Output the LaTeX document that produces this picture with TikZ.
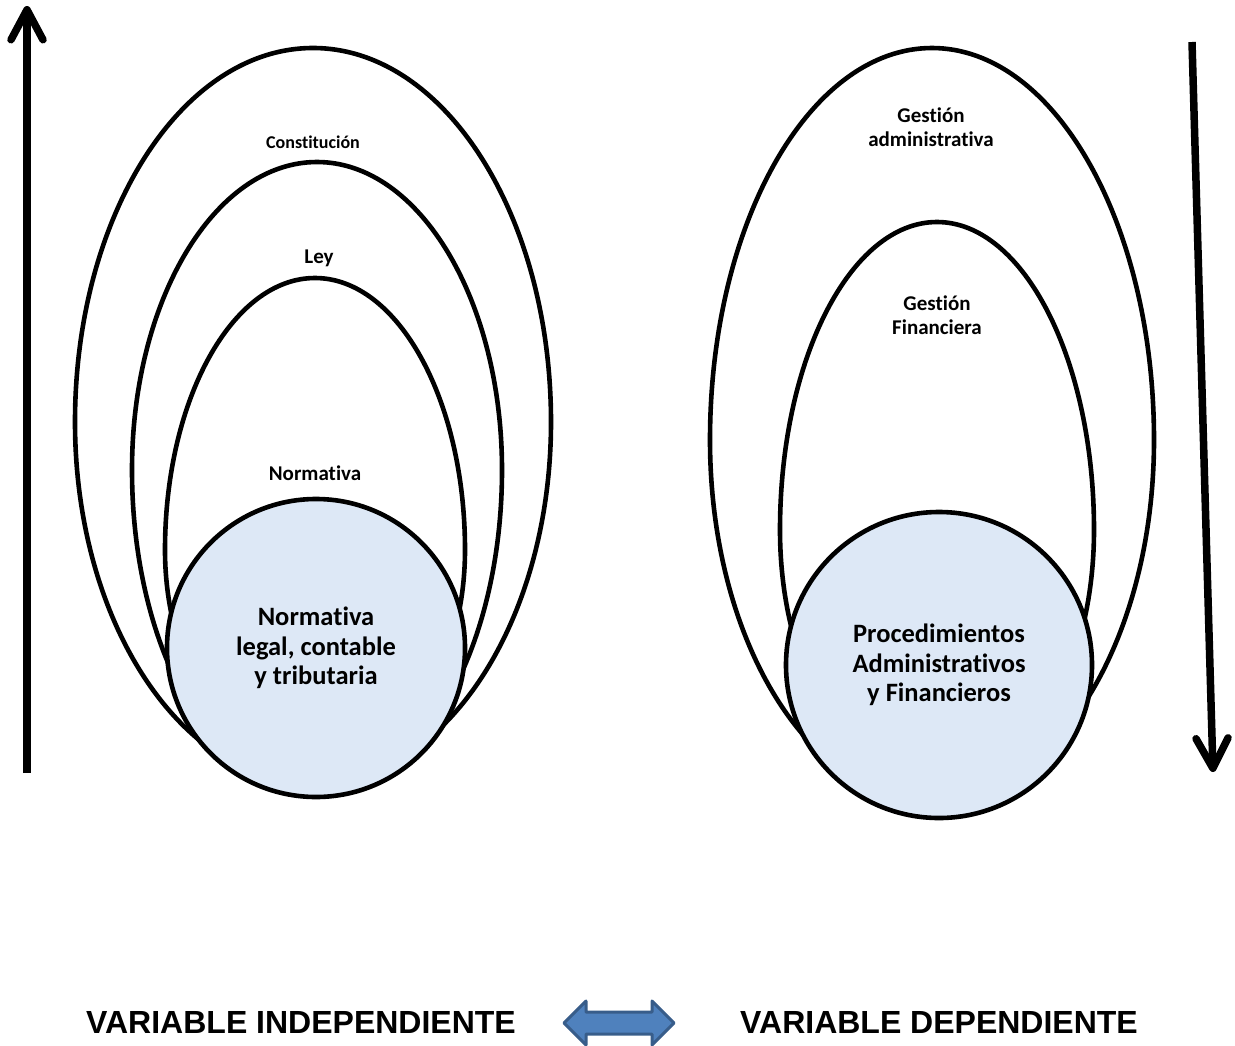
\documentclass[tikz,border=0pt]{standalone}
\usepackage{fontspec}
\setmainfont{Carlito}[Ligatures=NoCommon]
\newfontfamily\capsfont{Liberation Sans}
\usetikzlibrary{arrows.meta}

\definecolor{discfill}{RGB}{221,232,246}
\definecolor{linkblue}{RGB}{79,129,189}
\definecolor{linkedge}{RGB}{56,93,138}

% egg-shaped ring: #1 centre x, #2 y of widest row, #3 half width,
% #4 height above the widest row, #5 depth below it
\newcommand\eggring[5]{%
  \draw[ring] (#1-#3,#2) arc[start angle=180, end angle=360, x radius=#3, y radius=#4]
    arc[start angle=0, end angle=180, x radius=#3, y radius=#5] -- cycle;}

\begin{document}
\begin{tikzpicture}[x=1pt,y=-1pt,
  ring/.style={draw=black, line width=4.6pt},
  disc/.style={circle, draw=black, line width=4.6pt, fill=discfill, inner sep=0pt,
    align=center, font=\bfseries\fontsize{26.5}{29.5}\selectfont},
  tagsmall/.style={align=center, font=\bfseries\fontsize{18}{24}\selectfont},
  tagmid/.style={align=center, font=\bfseries\fontsize{21}{24}\selectfont},
  taglarge/.style={align=center, font=\bfseries\fontsize{21}{24}\selectfont},
  levelarrow/.style={line width=7.5pt, -{Straight Barb[round,length=30pt,width=32pt]}},
  caption/.style={anchor=base, font=\capsfont\bfseries\fontsize{32}{38}\selectfont}]
\useasboundingbox (0,0) rectangle (1235,1045);

% left group: nested legal levels
\eggring{313}{422}{238}{374}{362}
\eggring{317}{470}{185}{308}{325}
\eggring{315}{550}{150}{272}{220}
\node[disc, minimum size=298pt] (baseleft) at (316,648) {Normativa\\legal, contable\\y tributaria};

\node[tagsmall] (tconst) at (313,142) {Constitución};
\node[tagmid] (tley) at (319,258) {Ley};
\node[tagmid] (tnorm) at (315,473) {Normativa};

% right group: management levels
\eggring{932}{440}{222}{392}{362}
\eggring{937}{530}{157}{308}{260}
\node[disc, minimum size=306pt] (baseright) at (939,665) {Procedimientos\\Administrativos\\y Financieros};

\node[taglarge] (tadmin) at (931,127) {Gestión\\administrativa};
\node[taglarge] (tfin) at (937,315) {Gestión\\Financiera};

% direction arrows
\coordinate (upfrom) at (27,773);
\coordinate (upto) at (27,6);
\draw[levelarrow] (upfrom) -- (upto);
\coordinate (downfrom) at (1192,42);
\coordinate (downto) at (1213,772);
\draw[levelarrow] (downfrom) -- (downto);

% captions and the link between them
\node[caption] (indep) at (301,1033) {VARIABLE INDEPENDIENTE};
\node[caption] (dep) at (939,1033) {VARIABLE DEPENDIENTE};
\draw[fill=linkblue, draw=linkedge, line width=3pt, line join=round]
  (564,1023) -- (586,1001) -- (586,1012) -- (652,1012) -- (652,1001)
  -- (674,1023) -- (652,1045) -- (652,1034) -- (586,1034) -- (586,1045) -- cycle;
\end{tikzpicture}
\end{document}
